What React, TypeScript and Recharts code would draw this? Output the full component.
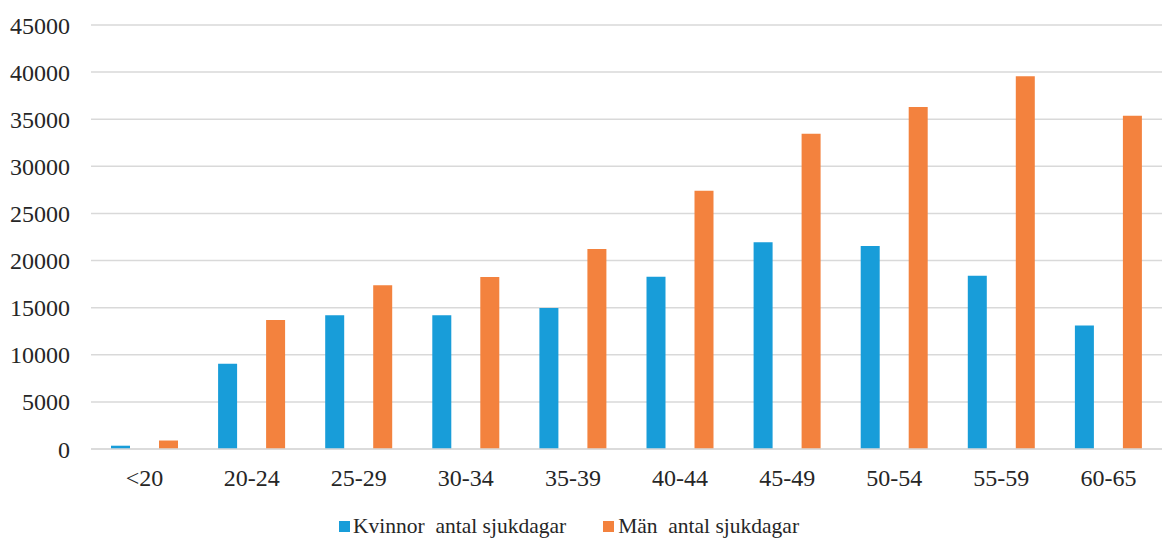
import React from "react";
import { BarChart, Bar, XAxis, YAxis, CartesianGrid, Legend } from "recharts";

const categories = ["<20", "20-24", "25-29", "30-34", "35-39", "40-44", "45-49", "50-54", "55-59", "60-65"];
const kvinnor = [350, 9050, 14200, 14200, 14970, 18270, 21950, 21550, 18400, 13100];
const man = [900, 13700, 17380, 18260, 21230, 27400, 33450, 36300, 39550, 35380];
const yTicks = [0, 5000, 10000, 15000, 20000, 25000, 30000, 35000, 40000, 45000];

const seriesNames = ["Kvinnor  antal sjukdagar", "Män  antal sjukdagar"];
const BLUE = "#189DD9";
const ORANGE = "#F3823E";
const FONT = "'Liberation Serif', 'Times New Roman', serif";
const TEXT = "#262626";

const data = categories.map((c, i) => ({ cat: c, kvinnor: kvinnor[i], man: man[i] }));

const LegendContent = () => (
  <div
    style={{
      display: "flex",
      alignItems: "center",
      height: 30,
      paddingLeft: 339,
      fontFamily: FONT,
      fontSize: 21.5,
      color: TEXT,
      whiteSpace: "pre",
    }}
  >
    <span style={{ display: "inline-block", width: 11, height: 11, background: BLUE, marginRight: 3 }} />
    <span>{seriesNames[0]}</span>
    <span style={{ display: "inline-block", width: 11, height: 11, background: ORANGE, marginLeft: 37, marginRight: 4 }} />
    <span>{seriesNames[1]}</span>
  </div>
);

const tickStyle = { fontFamily: FONT, fontSize: 24, fill: TEXT };

export default function App() {
  return (
    <div style={{ position: "absolute", left: 0, top: 0, width: 1162, height: 541, background: "#fff", fontFamily: FONT }}>
      <BarChart
        width={1162}
        height={541}
        data={data}
        margin={{ top: 25, right: 0, bottom: 0, left: 0 }}
        barSize={19}
        barGap={29}
        barCategoryGap={20}
      >
        <CartesianGrid vertical={false} stroke="#d9d9d9" strokeWidth={1.5} />
        <XAxis
          dataKey="cat"
          height={62}
          tickLine={false}
          tickSize={0}
          tickMargin={20}
          axisLine={{ stroke: "#d9d9d9", strokeWidth: 1.5 }}
          tick={tickStyle}
          interval={0}
        />
        <YAxis
          width={91}
          domain={[0, 45000]}
          ticks={yTicks}
          axisLine={false}
          tickLine={false}
          tickSize={0}
          tickMargin={21}
          tick={tickStyle}
          interval={0}
        />
        <Legend
          verticalAlign="bottom"
          height={30}
          wrapperStyle={{ left: 0, width: 1162 }}
          content={<LegendContent />}
        />
        <Bar dataKey="kvinnor" name={seriesNames[0]} fill={BLUE} isAnimationActive={false} />
        <Bar dataKey="man" name={seriesNames[1]} fill={ORANGE} isAnimationActive={false} />
      </BarChart>
    </div>
  );
}
